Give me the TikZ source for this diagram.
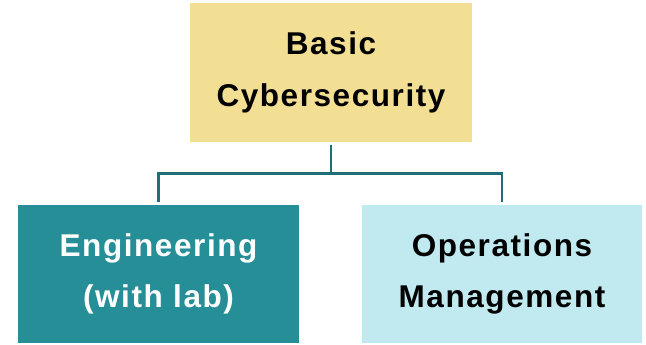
\documentclass[tikz,border=0pt]{standalone}
\usepackage{fontspec}
\usetikzlibrary{calc}
\setmainfont{Liberation Sans}[LetterSpace=5]
\definecolor{boxyellow}{RGB}{242,223,148}
\definecolor{boxteal}{RGB}{38,142,151}
\definecolor{boxblue}{RGB}{192,234,239}
\definecolor{linkteal}{RGB}{32,110,118}
\begin{document}
\begin{tikzpicture}[x=1pt,y=-1pt,
  box/.style={rectangle, inner sep=0pt, align=center,
    font=\bfseries\fontsize{31.5}{51.5}\selectfont},
  link/.style={draw=linkteal, line width=2.8pt}]
  \useasboundingbox (0,0) rectangle (646,345);
  \node[box, fill=boxyellow, minimum width=282pt, minimum height=139pt] (basic) at (331,72.5) {Basic\\Cybersecurity};
  \node[box, fill=boxteal, text=white, minimum width=281pt, minimum height=138pt] (eng) at (158.5,274) {Engineering\\(with lab)};
  \node[box, fill=boxblue, minimum width=280pt, minimum height=138pt] (ops) at (502,274) {Operations\\Management};
  % junction where the trunk meets the horizontal bar
  \coordinate (fork) at ($(basic.south)+(0,31)$);
  \draw[link, shorten <=3pt] (basic.south) -- (fork);
  \draw[link, shorten >=3pt] (fork) -| (eng.north);
  \draw[link, shorten >=3pt] (fork) -| (ops.north);
\end{tikzpicture}
\end{document}
